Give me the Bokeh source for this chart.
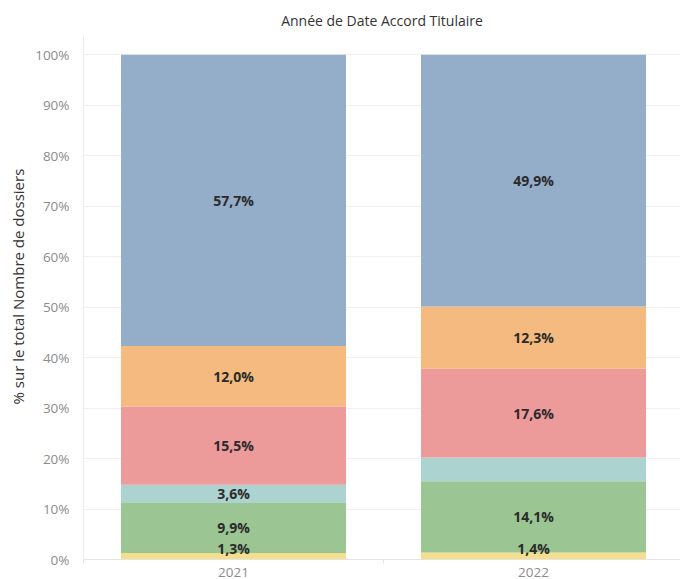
from bokeh.plotting import figure
from bokeh.models import ColumnDataSource, FixedTicker, LabelSet, Title
from bokeh.embed import file_html
from bokeh.resources import INLINE
from bokeh.core.properties import value

# ---- data ----
years = ["2021", "2022"]
series = ["Jaune", "Vert", "Turquoise", "Rouge", "Orange", "Bleu"]
values_2021 = [1.3, 9.9, 3.6, 15.5, 12.0, 57.7]
values_2022 = [1.4, 14.1, 4.7, 17.6, 12.3, 49.9]
labels_shown_2021 = [True, True, True, True, True, True]
labels_shown_2022 = [True, True, False, True, True, True]
y_ticks = [0, 10, 20, 30, 40, 50, 60, 70, 80, 90, 100]
title_text = "Année de Date Accord Titulaire"
y_title = "% sur le total Nombre de dossiers"

colors = ["#f4df8f", "#9bc694", "#add3d0", "#ed9a9b", "#f5ba7f", "#94aeca"]

FONT = "Open Sans"

x_pos = [i + 0.5 for i in range(len(years))]
all_values = [values_2021, values_2022]
all_shown = [labels_shown_2021, labels_shown_2022]

data = {"x": x_pos}
for si, s in enumerate(series):
    data[s] = [vals[si] for vals in all_values]
src = ColumnDataSource(data)

p = figure(width=680, height=579, output_backend="svg", toolbar_location=None,
           x_range=(0, 1.99), y_range=(0, 103.8),
           min_border_left=83, min_border_right=0, min_border_top=35,
           min_border_bottom=0, background_fill_color="white",
           border_fill_color="white", outline_line_color=None)

p.vbar_stack(series, x="x", width=0.75, source=src, color=colors, line_color=None)

# segment labels
lx, ly, lt = [], [], []
for yi, vals in enumerate(all_values):
    cum = 0.0
    for si, v in enumerate(vals):
        mid = cum + v / 2.0
        cum += v
        if all_shown[yi][si]:
            lx.append(x_pos[yi])
            ly.append(max(mid, 2.2))
            lt.append(("%.1f" % v).replace(".", ",") + "%")
lsrc = ColumnDataSource(dict(x=lx, y=ly, t=lt))
p.add_layout(LabelSet(x="x", y="y", text="t", source=lsrc, text_align="center",
                      text_baseline="middle", text_font=value(FONT),
                      text_font_style="bold", text_font_size="14px",
                      text_color="#2b2b2b"))

# title
p.title.text = title_text
p.title.align = "center"
p.title.text_font = FONT
p.title.text_font_style = "normal"
p.title.text_font_size = "14px"
p.title.text_color = "#333333"
p.title.offset = 1.5
p.title.standoff = 12

# y axis
p.yaxis.ticker = FixedTicker(ticks=y_ticks)
p.yaxis.major_label_overrides = {t: "%d%%" % t for t in y_ticks}
p.yaxis.major_label_text_font = FONT
p.yaxis.major_label_text_font_size = "13.5px"
p.yaxis.major_label_text_color = "#8c8c8c"
p.yaxis.major_label_standoff = 8
p.yaxis.axis_line_color = "#ececec"
p.yaxis.major_tick_line_color = None
p.yaxis.minor_tick_line_color = None

# x axis
p.xaxis.ticker = FixedTicker(ticks=x_pos, minor_ticks=[0, 1, 2])
p.xaxis.major_label_overrides = {x: y for x, y in zip(x_pos, years)}
p.xaxis.major_label_text_font = FONT
p.xaxis.major_label_text_font_size = "13.5px"
p.xaxis.major_label_text_color = "#8c8c8c"
p.xaxis.major_label_standoff = 2
p.xaxis.axis_line_color = "#e4e4e4"
p.xaxis.major_tick_line_color = None
p.xaxis.minor_tick_line_color = "#e4e4e4"
p.xaxis.minor_tick_in = 0
p.xaxis.minor_tick_out = 4

p.xgrid.grid_line_color = None
p.ygrid.ticker = FixedTicker(ticks=y_ticks)
p.ygrid.grid_line_color = "#f0f0f0"
p.ygrid.level = "underlay"

p.add_layout(Title(text=y_title, align="left", offset=155, standoff=9,
                   text_font=FONT, text_font_style="normal",
                   text_font_size="15px", text_color="#333333"), "left")

open("out.html", "w").write(file_html(p, INLINE))
